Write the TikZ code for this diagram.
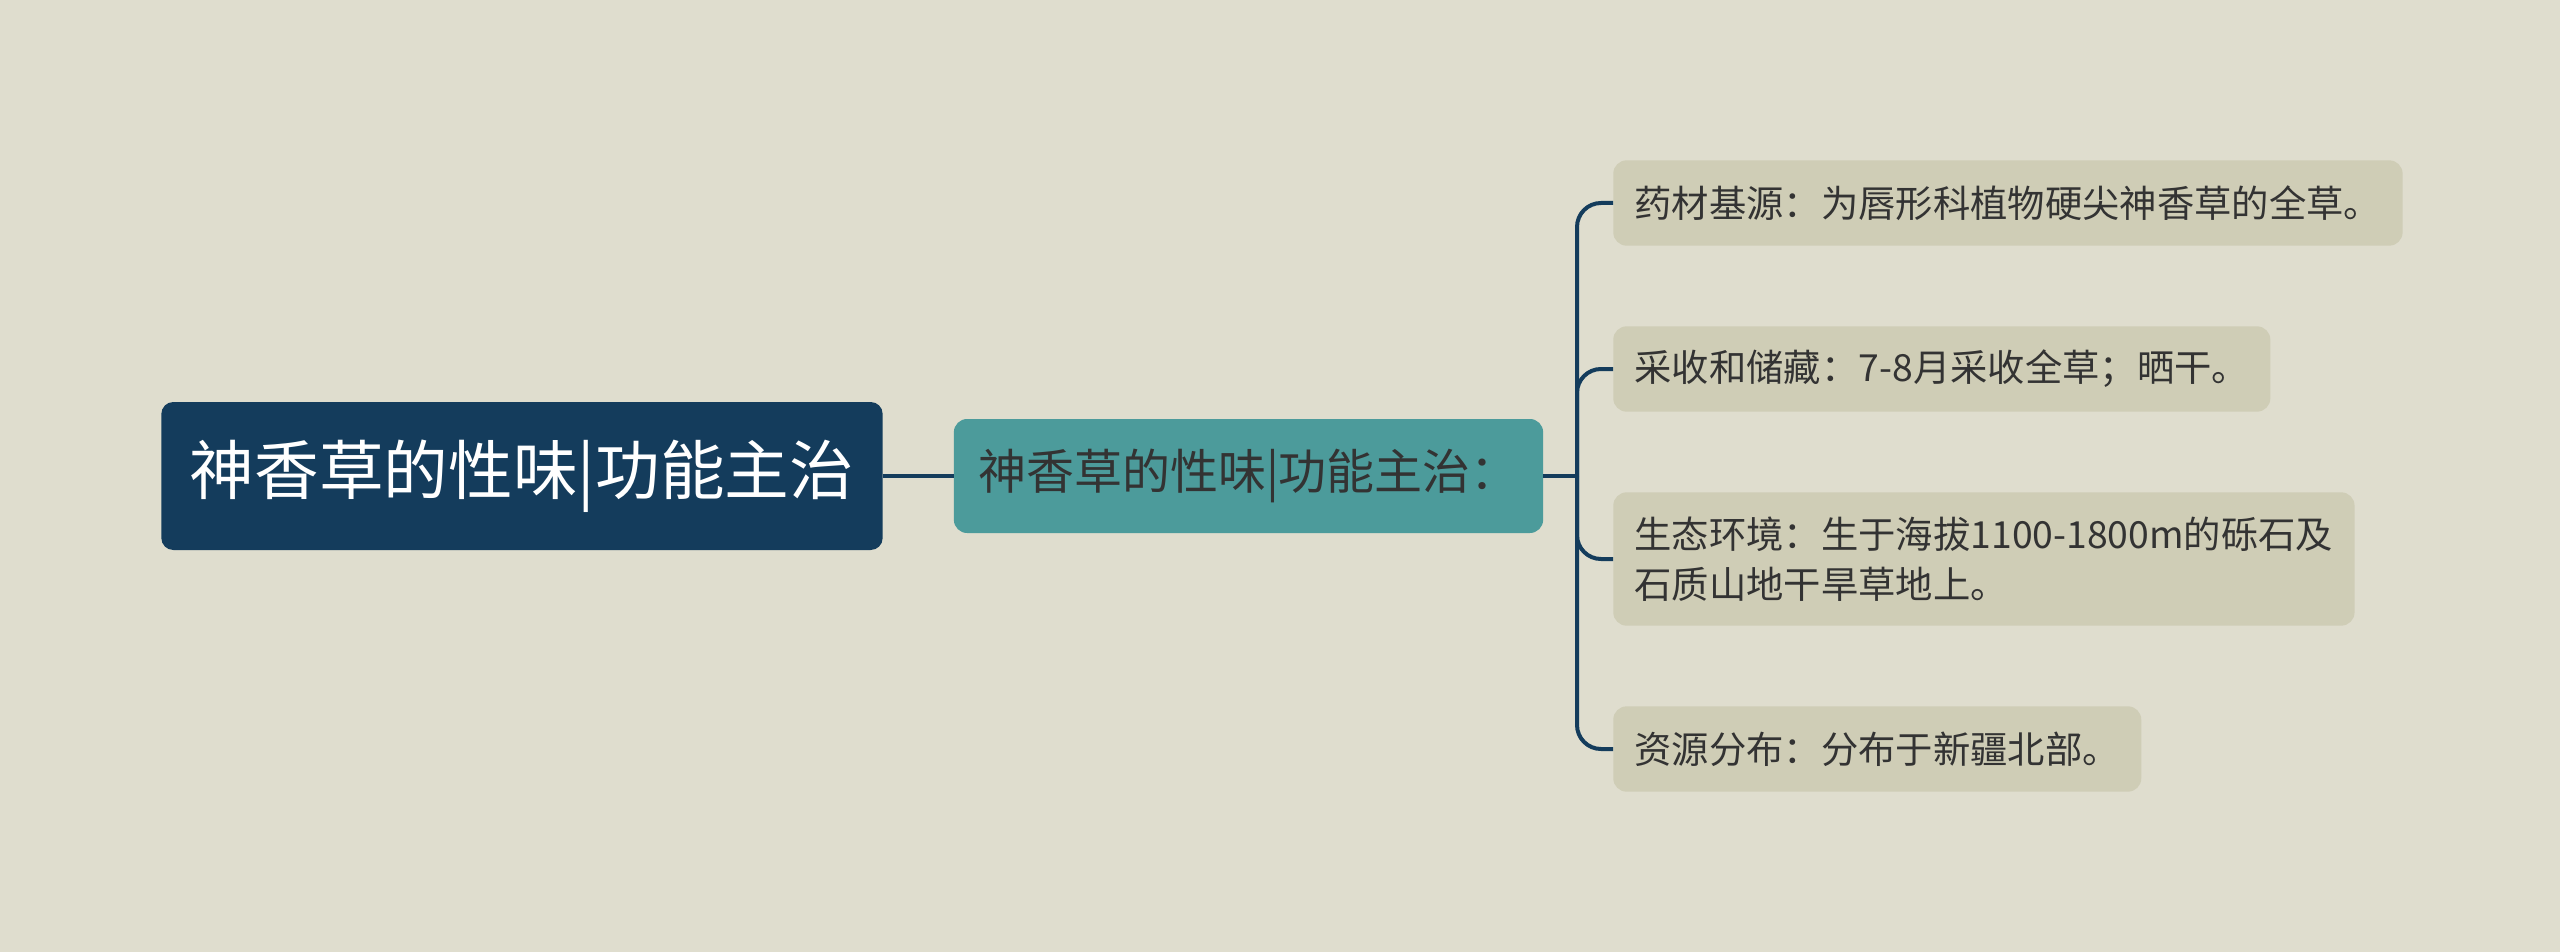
\documentclass[tikz,border=0pt]{standalone}
\usepackage{fontspec}
\setmainfont{Noto Sans CJK SC}
\definecolor{bgcol}{HTML}{DFDDCE}
\definecolor{rootblue}{HTML}{143C5C}
\definecolor{mainteal}{HTML}{4C9B9B}
\definecolor{leafcol}{HTML}{CFCDB6}
\definecolor{textgray}{HTML}{333333}

\begin{document}
\begin{tikzpicture}[x=0.75pt,y=-0.75pt,
    link/.style={draw=rootblue, line width=3pt},
    leaf/.style={fill=leafcol, rounded corners=10pt, anchor=west, align=left,
      inner xsep=16pt, minimum height=64pt, text=textgray,
      font=\fontsize{28}{37.5}\selectfont}]
            \fill[bgcol] (0,0) rectangle (2560,952);
            \useasboundingbox (0,0) rectangle (2560,952);

            % Root node
            \node[fill=rootblue, rounded corners=9pt, minimum width=541pt,
              minimum height=111pt, text=white,
              font=\fontsize{48.5}{56}\selectfont] (root) at (522,476) {神香草的性味|功能主治};

            % Second stage node
            \node[fill=mainteal, rounded corners=10pt, minimum width=442pt,
              minimum height=85.5pt, text=textgray,
              font=\fontsize{36}{42}\selectfont] (main) at (1248.5,476) {神香草的性味|功能主治：};
            \draw[link] (root.east) -- (main.west);

            % Fork of the bracket
            \coordinate (fork) at (1577,476);
            \draw[link] (main.east) -- (fork);

            % Third stage nodes
            \node[leaf] (n1) at (1613,203) {药材基源：为唇形科植物硬尖神香草的全草。};
            \draw[link, rounded corners=18pt] (fork) |- (n1.west);

            \node[leaf] (n2) at (1613,369) {采收和储藏：7-8月采收全草；晒干。};
            \draw[link, rounded corners=18pt] (fork) |- (n2.west);

            \node[leaf, minimum height=100pt] (n3) at (1613,559) {生态环境：生于海拔1100-1800m的砾石及\\石质山地干旱草地上。};
            \draw[link, rounded corners=18pt] (fork) |- (n3.west);

            \node[leaf] (n4) at (1613,749) {资源分布：分布于新疆北部。};
            \draw[link, rounded corners=18pt] (fork) |- (n4.west);
        \end{tikzpicture}
\end{document}
